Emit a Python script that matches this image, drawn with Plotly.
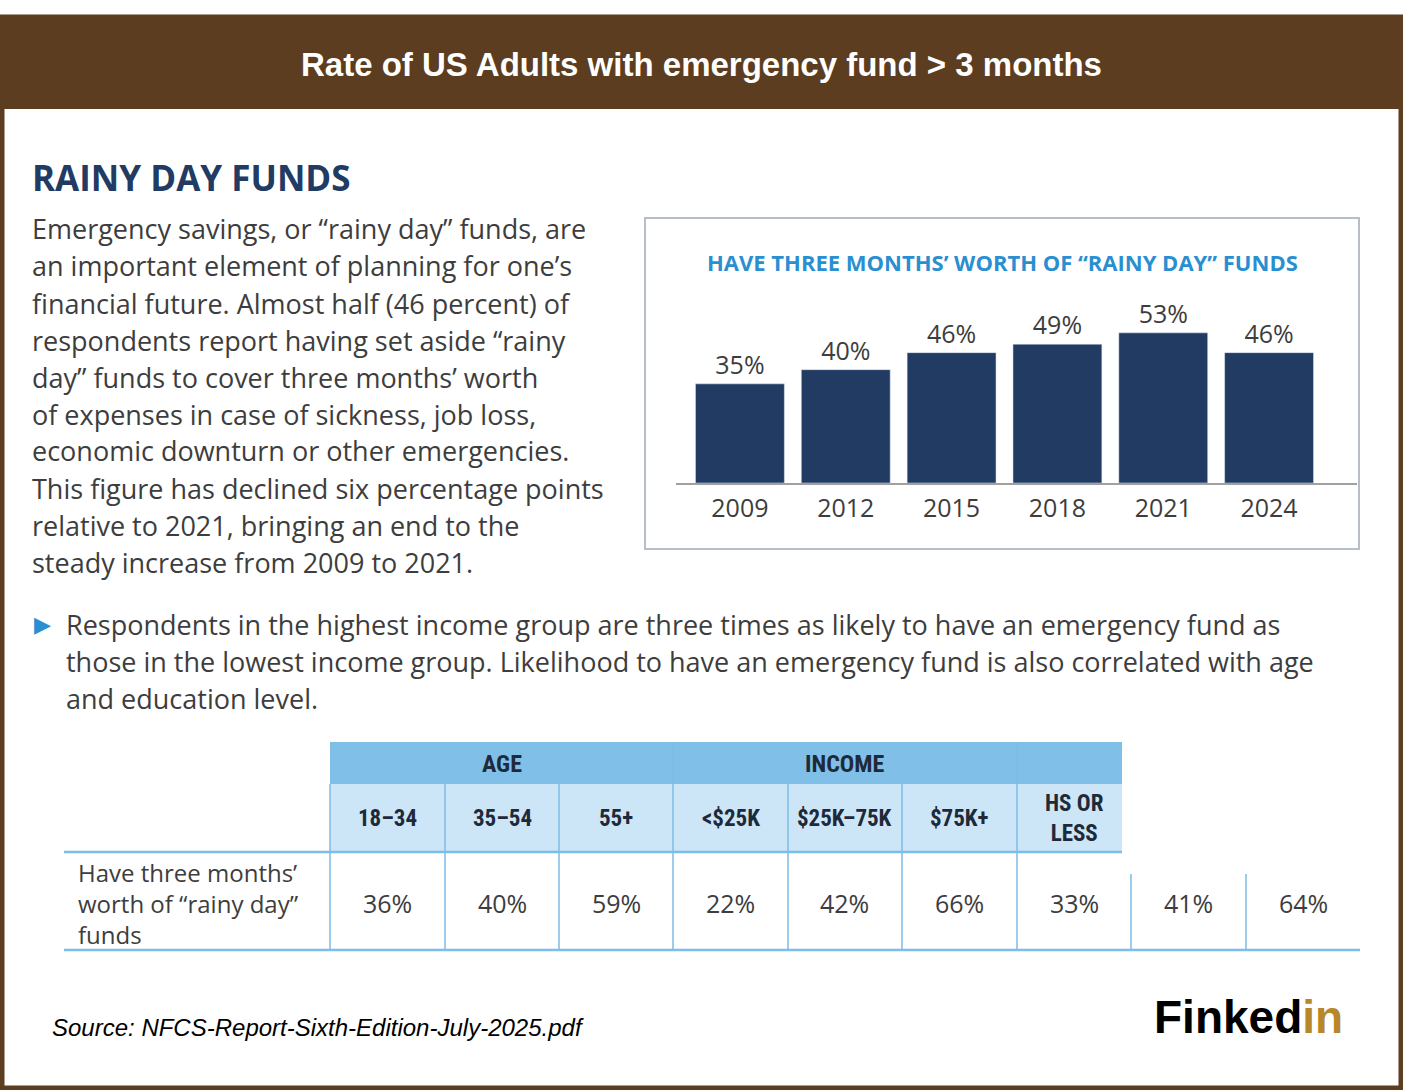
import plotly.graph_objects as go

W, H = 1403, 1090
years = ["2009", "2012", "2015", "2018", "2021", "2024"]
rates = [35, 40, 46, 49, 53, 46]
groups = ["AGE", "INCOME", ""]
sub_labels = ["18–34", "35–54", "55+", "<$25K", "$25K–75K", "$75K+", "HS OR<br>LESS", "", ""]
table_values = ["36%", "40%", "59%", "22%", "42%", "66%", "33%", "41%", "64%"]
paragraph = [
    "Emergency savings, or “rainy day” funds, are",
    "an important element of planning for one’s",
    "financial future. Almost half (46 percent) of",
    "respondents report having set aside “rainy",
    "day” funds to cover three months’ worth",
    "of expenses in case of sickness, job loss,",
    "economic downturn or other emergencies.",
    "This figure has declined six percentage points",
    "relative to 2021, bringing an end to the",
    "steady increase from 2009 to 2021.",
]
bullet = [
    "Respondents in the highest income group are three times as likely to have an emergency fund as",
    "those in the lowest income group. Likelihood to have an emergency fund is also correlated with age",
    "and education level.",
]

def px(x): return x / W
def py(y): return 1 - y / H

TXT = "#3d3d3d"
BODY = "Open Sans, Noto Sans, sans-serif"
COND = "Liberation Sans Narrow, Roboto Condensed, Roboto, sans-serif"

fig = go.Figure()
fig.add_trace(go.Bar(x=years, y=rates, marker_color="#213B63",
                     text=[f"{v}%" for v in rates], textposition="outside",
                     textfont=dict(family=BODY, size=25, color=TXT), cliponaxis=False))

shapes, ann = [], []
def rect(x0, y0, x1, y1, fill=None, line=None, lw=1):
    shapes.append(dict(type="rect", xref="paper", yref="paper", x0=px(x0), x1=px(x1),
                       y0=py(y1), y1=py(y0), fillcolor=fill or "rgba(0,0,0,0)",
                       line=dict(color=line or "rgba(0,0,0,0)", width=lw), layer="below"))
def line(x0, y0, x1, y1, color, w=1.5):
    shapes.append(dict(type="line", xref="paper", yref="paper", x0=px(x0), x1=px(x1),
                       y0=py(y0), y1=py(y1), line=dict(color=color, width=w)))
def text(x, y, s, size, color=TXT, family=BODY, xa="left", ya="middle", **kw):
    ann.append(dict(xref="paper", yref="paper", x=px(x), y=py(y), text=s, showarrow=False,
                    xanchor=xa, yanchor=ya, align=xa,
                    font=dict(size=size, color=color, family=family), **kw))

# frame + header
rect(2, 17, 1401, 1088, line="#5C3D1F", lw=5)
rect(0, 17, W, 109, fill="#5C3D1F")
text(W / 2, 65, "<b>Rate of US Adults with emergency fund > 3 months</b>", 33, "white",
     "Liberation Sans, Arial, sans-serif", xa="center")

text(30, 178, "<b>RAINY DAY FUNDS</b>", 35, "#213B63", BODY)
for i, s in enumerate(paragraph):
    text(30, 229 + i * 37, s, 27, TXT)

# chart box
rect(645, 218, 1359, 549, line="#B8BEC8", lw=2)
text(1002, 262, "<b>HAVE THREE MONTHS’ WORTH OF “RAINY DAY” FUNDS</b>", 22, "#2A8FD1", BODY, xa="center")
line(676, 484, 1357, 484, "#A0A0A0", 2)

# bullet
text(32, 623, "▶", 22, "#2A8FD1")
for i, s in enumerate(bullet):
    text(64, 624 + i * 37, s, 27, TXT)

# table
xs = [330, 445, 559, 673, 788, 902, 1017, 1131, 1246, 1360]
rect(330, 742, 1122, 784, fill="#7FBFE8")
rect(330, 784, 1122, 852, fill="#CDE6F7")
LB = "#7DBDE6"
for gx, g in zip([(330, 673), (673, 1017), (1017, 1122)], groups):
    text((gx[0] + gx[1]) / 2, 764, f"<b>{g}</b>", 24, "#1E2A3A", COND, xa="center")
for x in [673, 1017]:
    line(x, 742, x, 784, LB)
for i, s in enumerate(sub_labels):
    if s:
        text((xs[i] + xs[i + 1]) / 2, 818, f"<b>{s}</b>", 23, "#1E2A3A", COND, xa="center")
for x in xs[:7]:
    line(x, 784, x, 950, LB)
for x in [1131, 1246]:
    line(x, 874, x, 950, LB)
line(64, 852, 1122, 852, LB, 2.5)
line(64, 950, 1360, 950, LB, 2.5)
text(76, 903, "Have three months’<br>worth of “rainy day”<br>funds", 24, TXT)
for i, v in enumerate(table_values):
    text((xs[i] + xs[i + 1]) / 2, 903, v, 25, TXT, xa="center")

text(50, 1027, "<i>Source: NFCS-Report-Sixth-Edition-July-2025.pdf</i>", 24, "black",
     "Liberation Sans, Arial, sans-serif")
text(1345, 1017, "<b>Finked<span style='color:#B8862B'>in</span></b>", 46, "black",
     "Liberation Sans, Arial, sans-serif", xa="right")

fig.update_layout(
    width=W, height=H, margin=dict(l=0, r=0, t=0, b=0), showlegend=False,
    paper_bgcolor="white", plot_bgcolor="white", bargap=0.16,
    shapes=shapes, annotations=ann,
    xaxis=dict(domain=[px(687), px(1322)], showline=False, ticklabelstandoff=8,
               ticks="", tickfont=dict(family=BODY, size=25, color=TXT)),
    yaxis=dict(domain=[py(483), py(313)], range=[0, 60], visible=False),
)
fig.write_html("out.html", config={"displayModeBar": False},
               post_script="document.body.style.margin='0';")
